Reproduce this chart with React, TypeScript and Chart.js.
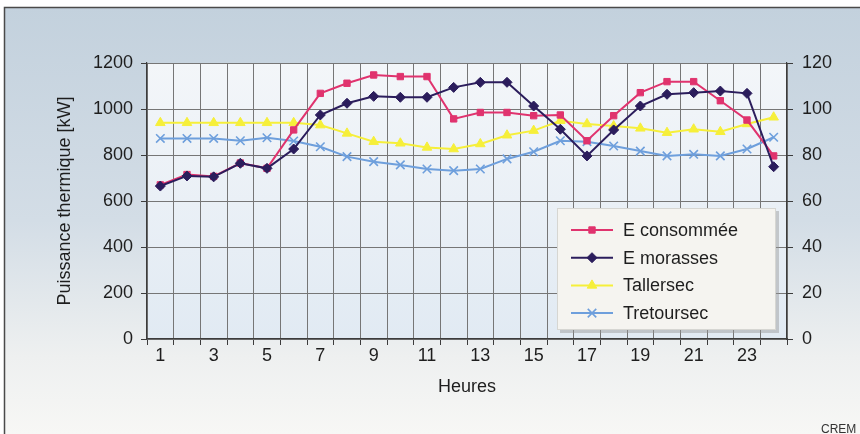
import React, { useEffect, useRef } from 'react';
import { Chart, registerables } from 'chart.js';
import { drawPoint } from 'chart.js/helpers';

Chart.register(...registerables);

const hourLabels = ['1','2','3','4','5','6','7','8','9','10','11','12','13','14','15','16','17','18','19','20','21','22','23','24'];

const eConsommee = [670, 715, 707, 765, 742, 909, 1068, 1112, 1148, 1141, 1141, 957, 985, 985, 971, 974, 862, 971, 1071, 1119, 1119, 1036, 952, 796];
const eMorasses = [665, 709, 705, 764, 742, 826, 974, 1025, 1055, 1051, 1051, 1094, 1116, 1116, 1013, 912, 796, 909, 1013, 1064, 1071, 1078, 1068, 749];
const tallersec = [94, 94, 94, 94, 94, 94, 93, 89.4, 85.8, 85.1, 83.3, 82.6, 84.8, 88.6, 90.6, 94.9, 93.5, 92.6, 91.6, 89.7, 91.2, 90.1, 93.5, 96.4];
const tretoursec = [87.2, 87.2, 87.2, 86.2, 87.5, 86.1, 83.6, 79.3, 77.1, 75.7, 73.9, 73.2, 73.9, 78.3, 81.4, 86.2, 85.8, 83.9, 81.7, 79.6, 80.3, 79.6, 82.6, 87.7];

const leftTicks = { min: 0, max: 1200, step: 200 };
const rightTicks = { min: 0, max: 120, step: 20 };

const FONT = '"Liberation Sans", Arial, Helvetica, sans-serif';
const TEXT = '#1e1e1e';
const GRID = '#767676';
const AXIS = '#3c3c3c';

const bgPlugin = {
  id: 'bgPlugin',
  beforeDraw(chart: any) {
    const { ctx, width, height, chartArea } = chart;
    ctx.save();
    ctx.fillStyle = '#ffffff';
    ctx.fillRect(0, 0, width, height);
    const g = ctx.createLinearGradient(0, 7, 0, height);
    g.addColorStop(0, '#c3d1dd');
    g.addColorStop(0.5, '#d3dde6');
    g.addColorStop(0.82, '#eef0f0');
    g.addColorStop(1, '#f7f7f5');
    ctx.fillStyle = g;
    ctx.fillRect(4, 7, width - 4, height - 7);
    ctx.strokeStyle = '#4a4a4a';
    ctx.lineWidth = 1.5;
    ctx.beginPath();
    ctx.moveTo(4.5, height);
    ctx.lineTo(4.5, 7.5);
    ctx.lineTo(width, 7.5);
    ctx.stroke();
    const { left, top, right, bottom } = chartArea;
    const pg = ctx.createLinearGradient(0, top, 0, bottom);
    pg.addColorStop(0, '#f3f6f9');
    pg.addColorStop(1, '#e1eaf3');
    ctx.fillStyle = pg;
    ctx.fillRect(left, top, right - left, bottom - top);
    ctx.restore();
  },
  afterDraw(chart: any) {
    const { ctx, height } = chart;
    ctx.save();
    ctx.font = `12px ${FONT}`;
    ctx.fillStyle = '#333';
    ctx.textBaseline = 'alphabetic';
    ctx.textAlign = 'left';
    ctx.fillText('CREM', 821, height - 1);
    ctx.restore();
  },
};

const legendPlugin = {
  id: 'boxLegend',
  afterDraw(chart: any) {
    const { ctx } = chart;
    const bx = 557, by = 208, bw = 219, bh = 122;
    ctx.save();
    ctx.fillStyle = 'rgba(150,150,150,0.45)';
    ctx.fillRect(bx + 3, by + 3, bw, bh);
    ctx.fillStyle = '#f5f4f0';
    ctx.fillRect(bx, by, bw, bh);
    ctx.strokeStyle = '#d6d6d2';
    ctx.lineWidth = 1;
    ctx.strokeRect(bx + 0.5, by + 0.5, bw - 1, bh - 1);
    [0, 1, 2, 3].forEach((di, i) => {
      const ds = chart.data.datasets[di];
      const y = by + 22 + i * 27.7;
      ctx.strokeStyle = ds.borderColor;
      ctx.lineWidth = 2;
      ctx.beginPath();
      ctx.moveTo(571, y);
      ctx.lineTo(613, y);
      ctx.stroke();
      ctx.fillStyle = ds.pointBackgroundColor;
      ctx.strokeStyle = ds.pointBorderColor;
      ctx.lineWidth = ds.pointBorderWidth;
      drawPoint(ctx, { pointStyle: ds.pointStyle, radius: ds.pointRadius, rotation: 0, borderWidth: ds.pointBorderWidth } as any, 592, y);
      ctx.fillStyle = TEXT;
      ctx.font = `18px ${FONT}`;
      ctx.textBaseline = 'middle';
      ctx.textAlign = 'left';
      ctx.fillText(ds.label, 623, y + 1);
    });
    ctx.restore();
  },
};

export default function App() {
  const ref = useRef<HTMLCanvasElement>(null);
  useEffect(() => {
    document.body.style.margin = '0';
    const chart = new Chart(ref.current!, {
      type: 'line',
      data: {
        labels: hourLabels,
        datasets: [
          {
            label: 'E consommée',
            data: eConsommee,
            yAxisID: 'y',
            borderColor: '#e0336e',
            backgroundColor: '#e0336e',
            pointBackgroundColor: '#e0336e',
            pointBorderColor: '#e0336e',
            pointBorderWidth: 1,
            pointStyle: 'rect',
            pointRadius: 4.5,
            borderWidth: 2,
            order: 2,
          },
          {
            label: 'E morasses',
            data: eMorasses,
            yAxisID: 'y',
            borderColor: '#2b1d5c',
            backgroundColor: '#2b1d5c',
            pointBackgroundColor: '#2b1d5c',
            pointBorderColor: '#2b1d5c',
            pointBorderWidth: 1,
            pointStyle: 'rectRot',
            pointRadius: 5,
            borderWidth: 2,
            order: 1,
          },
          {
            label: 'Tallersec',
            data: tallersec,
            yAxisID: 'y1',
            borderColor: '#f6ef3a',
            backgroundColor: '#f6ef3a',
            pointBackgroundColor: '#f6ef3a',
            pointBorderColor: '#f6ef3a',
            pointBorderWidth: 1,
            pointStyle: 'triangle',
            pointRadius: 5.5,
            borderWidth: 2,
            order: 4,
          },
          {
            label: 'Tretoursec',
            data: tretoursec,
            yAxisID: 'y1',
            borderColor: '#6e9fdc',
            backgroundColor: '#6e9fdc',
            pointBackgroundColor: '#6e9fdc',
            pointBorderColor: '#6e9fdc',
            pointBorderWidth: 1.6,
            pointStyle: 'crossRot',
            pointRadius: 6,
            borderWidth: 2,
            order: 3,
          },
        ],
      },
      options: {
        responsive: false,
        animation: false,
        layout: { padding: { top: 63, left: 0, right: 0, bottom: 0 } },
        plugins: {
          legend: { display: false },
          tooltip: { enabled: false },
        },
        scales: {
          x: {
            type: 'category',
            offset: true,
            grid: { offset: true, color: GRID, lineWidth: 1, tickLength: 6, tickColor: AXIS },
            border: { color: AXIS, width: 1.2 },
            ticks: {
              autoSkip: false,
              maxRotation: 0,
              padding: 0,
              color: TEXT,
              font: { family: FONT, size: 18 },
              callback: (_v: any, i: number) => (i % 2 === 0 ? hourLabels[i] : ''),
            },
            title: {
              display: true,
              text: 'Heures',
              color: TEXT,
              font: { family: FONT, size: 18 },
              padding: { top: 0, bottom: 36 },
            },
            afterFit: (s: any) => { s.height = 95; },
          },
          y: {
            position: 'left',
            min: leftTicks.min,
            max: leftTicks.max,
            grid: { color: GRID, lineWidth: 1, tickLength: 6, tickColor: AXIS },
            border: { color: AXIS, width: 1.2 },
            ticks: {
              stepSize: leftTicks.step,
              padding: 8,
              color: TEXT,
              font: { family: FONT, size: 18 },
              callback: (v: any) => String(v),
            },
            title: {
              display: true,
              text: 'Puissance thermique [kW]',
              color: TEXT,
              font: { family: FONT, size: 18 },
              padding: { top: 54, bottom: 0 },
            },
            afterFit: (s: any) => { s.width = 147; },
          },
          y1: {
            position: 'right',
            min: rightTicks.min,
            max: rightTicks.max,
            grid: { drawOnChartArea: false, tickLength: 6, tickColor: AXIS },
            border: { color: AXIS, width: 1.2 },
            ticks: {
              stepSize: rightTicks.step,
              padding: 9,
              color: TEXT,
              font: { family: FONT, size: 18 },
              callback: (v: any) => String(v),
            },
            afterFit: (s: any) => { s.width = 73; },
          },
        },
      },
      plugins: [bgPlugin, legendPlugin],
    });
    return () => chart.destroy();
  }, []);
  return (
    <div style={{ width: 860, height: 434 }}>
      <canvas ref={ref} width={860} height={434} style={{ display: 'block', width: 860, height: 434 }} />
    </div>
  );
}
